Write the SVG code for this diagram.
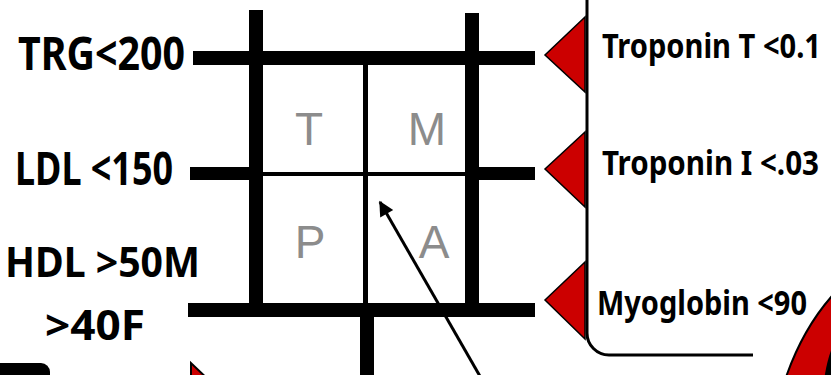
<svg xmlns="http://www.w3.org/2000/svg" width="831" height="375" viewBox="0 0 831 375">
<defs>
<style>
.bar{fill:#000}
.lbl{font-family:"Noto Sans","DejaVu Sans",sans-serif;font-weight:bold;fill:#000}
.q{font-family:"Liberation Sans","Noto Sans",sans-serif;font-size:46px;fill:#8c8c8c;text-anchor:middle}
.tri{fill:#cc0000;stroke:#000;stroke-width:1.5;stroke-linejoin:miter}
</style>
<marker id="ah" viewBox="0 0 10 10" refX="9" refY="5" markerWidth="5.5" markerHeight="5" orient="auto" markerUnits="strokeWidth">
<path d="M0,0 L10,5 L0,10 z" fill="#000"/>
</marker>
</defs>
<rect width="831" height="375" fill="#fff"/>

<g id="grid">
<rect class="bar" x="193" y="51" width="342" height="14"/>
<rect class="bar" x="190" y="167" width="73" height="13"/>
<rect class="bar" x="465" y="167" width="70" height="13"/>
<rect class="bar" x="263" y="172" width="202" height="4"/>
<rect class="bar" x="188" y="303" width="347" height="14"/>
<rect class="bar" x="249" y="10" width="14" height="307"/>
<rect class="bar" x="465" y="13" width="14" height="304"/>
<rect class="bar" x="363" y="65" width="5" height="238"/>
<rect class="bar" x="360" y="317" width="14" height="60"/>
</g>

<g id="quadrants">
<text class="q" x="309" y="145">T</text>
<text class="q" x="427" y="145">M</text>
<text class="q" x="310" y="258">P</text>
<text class="q" x="434" y="258">A</text>
</g>

<g id="lipids">
<text class="lbl" x="18" y="70" font-size="46" textLength="167" lengthAdjust="spacingAndGlyphs">TRG&lt;200</text>
<text class="lbl" x="15" y="185" font-size="46" textLength="158" lengthAdjust="spacingAndGlyphs">LDL &lt;150</text>
<text class="lbl" x="5" y="277" font-size="42" textLength="195" lengthAdjust="spacingAndGlyphs">HDL &gt;50M</text>
<text class="lbl" x="45" y="340" font-size="42" textLength="100" lengthAdjust="spacingAndGlyphs">&gt;40F</text>
</g>

<g id="cardiac">
<path d="M587,0 V333 A22,22 0 0 0 609,355 H753" fill="none" stroke="#000" stroke-width="3"/>
<polygon class="tri" points="585,17 545,55 585,92"/>
<polygon class="tri" points="585,132 545,169 585,207"/>
<polygon class="tri" points="585,262 545,300 585,339"/>
<text class="lbl" transform="translate(602,58) scale(1,1.13)" x="0" y="0" font-size="30" textLength="219" lengthAdjust="spacingAndGlyphs">Troponin T &lt;0.1</text>
<text class="lbl" transform="translate(602,175) scale(1,1.13)" x="0" y="0" font-size="30" textLength="217" lengthAdjust="spacingAndGlyphs">Troponin I &lt;.03</text>
<text class="lbl" transform="translate(597,315) scale(1,1.13)" x="0" y="0" font-size="30" textLength="210" lengthAdjust="spacingAndGlyphs">Myoglobin &lt;90</text>
</g>

<g id="partial-shapes">
<rect x="-12" y="363" width="62" height="30" rx="9" fill="#000"/>
<polygon points="191,363 191,385 214,385" fill="#cc0000" stroke="#000" stroke-width="2"/>
<path d="M785,380 Q802,330 832,296 L832,380 Z" fill="#cc0000" stroke="#000" stroke-width="2"/>
<path d="M824,380 Q827,360 832,348 L832,380 Z" fill="#000"/>
</g>

<g id="connectors">
<line x1="481" y1="378" x2="380" y2="202" stroke="#000" stroke-width="3" marker-end="url(#ah)"/>
</g>
</svg>
